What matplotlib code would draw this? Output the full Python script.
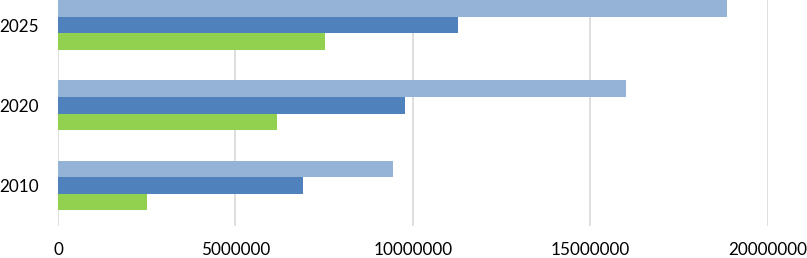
import numpy as np
import matplotlib.pyplot as plt

plt.rcParams['font.family'] = ['Lato', 'DejaVu Sans']

# 数据
years = ['2010', '2020', '2025']
series_green = [2500000, 6180000, 7530000]
series_dark = [6900000, 9770000, 11280000]
series_light = [9430000, 16000000, 18850000]
xticks = [0, 5000000, 10000000, 15000000, 20000000]

c_green = '#92D050'
c_dark = '#4F81BD'
c_light = '#95B3D7'

fig = plt.figure(figsize=(8.07, 2.58), dpi=100)
W, H = 807, 258
left, right = 58, 767.5
top, bottom = -15, 225.5
ax = fig.add_axes([left / W, 1 - bottom / H, (right - left) / W, (bottom - top) / H])

y = np.arange(len(years))
h = 0.207
ax.barh(y - h, series_green, height=h, color=c_green, zorder=3)
ax.barh(y, series_dark, height=h, color=c_dark, zorder=3)
ax.barh(y + h, series_light, height=h, color=c_light, zorder=3)

ax.set_xlim(0, 20000000)
ax.set_ylim(-0.5, 2.5)
ax.set_xticks(xticks)
ax.set_xticklabels([str(v) for v in xticks])
ax.set_yticks(y)
ax.set_yticklabels(years)
ax.grid(axis='x', color='#D9D9D9', linewidth=1.2, zorder=0)
for s in ax.spines.values():
    s.set_visible(False)
ax.tick_params(axis='both', length=0, labelsize=12.3, colors='black')
ax.tick_params(axis='x', pad=12)
ax.tick_params(axis='y', pad=14)

fig.savefig('out.png', dpi=100)
